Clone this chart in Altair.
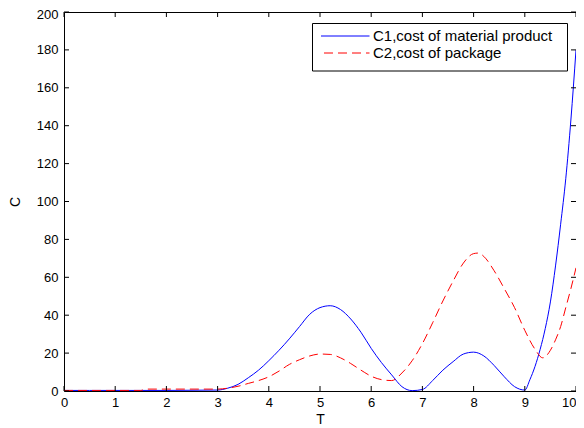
import altair as alt
import pandas as pd

# ---- data ----
T1 = [0.0, 0.5, 1.0, 1.5, 2.0, 2.5, 3.0, 3.2, 3.4, 3.6, 3.8, 4.0, 4.2, 4.4, 4.6, 4.8, 5.0, 5.2,
      5.4, 5.6, 5.8, 6.0, 6.2, 6.4, 6.6, 6.8, 7.0, 7.2, 7.4, 7.6, 7.8, 8.0, 8.2, 8.4, 8.6, 8.8,
      9.0, 9.1, 9.2, 9.3, 9.4, 9.5, 9.6, 9.7, 9.8, 9.9, 10.0]
C1 = [0.3, 0.3, 0.3, 0.3, 0.3, 0.4, 0.5, 1.5, 3.5, 7.0, 11.0, 16.0, 21.5, 27.5, 34.0, 40.5, 44.0, 45.0,
      43.0, 38.0, 31.0, 22.5, 15.0, 8.5, 2.3, 0.2, 0.8, 5.5, 11.0, 15.5, 19.5, 20.5, 18.5, 13.5, 7.5, 2.3,
      0.5, 6.0, 13.0, 22.0, 33.0, 47.0, 66.0, 88.0, 112.0, 143.0, 180.0]

T2 = [0.0, 0.5, 1.0, 1.5, 1.6, 2.0, 2.5, 3.0, 3.2, 3.4, 3.6, 3.8, 4.0, 4.2, 4.4, 4.6, 4.8, 5.0, 5.2,
      5.4, 5.6, 5.8, 6.0, 6.2, 6.4, 6.6, 6.8, 7.0, 7.2, 7.4, 7.6, 7.8, 8.0, 8.1, 8.2, 8.4, 8.6, 8.8,
      9.0, 9.2, 9.35, 9.5, 9.6, 9.7, 9.8, 9.9, 10.0]
C2 = [0.3, 0.3, 0.3, 0.3, 1.0, 1.0, 1.0, 1.0, 1.5, 2.5, 4.0, 5.5, 7.5, 10.5, 14.0, 16.5, 18.5, 19.5, 19.3,
      17.5, 14.5, 11.0, 7.8, 6.0, 5.5, 9.5, 16.0, 25.0, 36.0, 47.5, 58.0, 67.5, 72.5, 72.8, 71.0, 63.5, 54.0, 44.0,
      32.0, 22.0, 17.5, 21.5, 27.0, 34.0, 44.0, 54.0, 65.0]

series_names = ["C1,cost of material product", "C2,cost of package"]
x_ticks = [0, 1, 2, 3, 4, 5, 6, 7, 8, 9, 10]
y_ticks = [0, 20, 40, 60, 80, 100, 120, 140, 160, 180, 200]

W, H = 512, 379
FONT = "Liberation Sans"

df1 = pd.DataFrame({"T": T1, "C": C1})
df2 = pd.DataFrame({"T": T2, "C": C2})
dfx = pd.DataFrame({"t": x_ticks})
dfy = pd.DataFrame({"c": y_ticks})
one = pd.DataFrame({"k": [0]})

xscale = alt.Scale(domain=[0, 10], nice=False, zero=False)
yscale = alt.Scale(domain=[0, 200], nice=False, zero=False)

xaxis = alt.Axis(values=x_ticks, grid=False, domain=False, ticks=False, labelFont=FONT,
                 labelFontSize=13, labelColor="black", labelPadding=5, labelOverlap=False,
                 labelFlush=False,
                 labelAlign={"condition": {"test": "datum.value == 10", "value": "right"},
                             "value": "center"},
                 title="T",
                 titleFont=FONT, titleFontSize=14, titleFontWeight="normal", titleColor="black",
                 titlePadding=3)
yaxis = alt.Axis(values=y_ticks, grid=False, domain=False, ticks=False, labelFont=FONT,
                 labelFontSize=13, labelColor="black", labelPadding=6, labelOverlap=False,
                 labelFlush=False,
                 labelOffset={"condition": {"test": "datum.value == 200", "value": 2},
                              "value": 0},
                 title="C",
                 titleFont=FONT, titleFontSize=14, titleFontWeight="normal", titleColor="black",
                 titlePadding=14)

X = lambda f: alt.X(f, scale=xscale, axis=xaxis)
Y = lambda f: alt.Y(f, scale=yscale, axis=yaxis)

line1 = alt.Chart(df1).mark_line(color="#0000ff", strokeWidth=1, interpolate="monotone").encode(
    x=X("T:Q"), y=Y("C:Q"))
line2 = alt.Chart(df2).mark_line(color="#ff0000", strokeWidth=1, strokeDash=[9, 5],
                                 interpolate="monotone").encode(
    x=X("T:Q"), y=Y("C:Q"))

TL = 5
tick_style = dict(color="black", strokeWidth=1)
xt_bottom = alt.Chart(dfx).mark_rule(**tick_style).encode(
    x=X("t:Q"), y=alt.value(H - TL), y2=alt.value(H))
xt_top = alt.Chart(dfx).mark_rule(**tick_style).encode(
    x=X("t:Q"), y=alt.value(0), y2=alt.value(TL))
yt_left = alt.Chart(dfy).mark_rule(**tick_style).encode(
    y=Y("c:Q"), x=alt.value(0), x2=alt.value(TL))
yt_right = alt.Chart(dfy).mark_rule(**tick_style).encode(
    y=Y("c:Q"), x=alt.value(W - TL), x2=alt.value(W))

# ---- legend box ----
leg_box = alt.Chart(one).mark_rect(fill="white", stroke="black", strokeWidth=1).encode(
    x=alt.value(248.5), x2=alt.value(503.5), y=alt.value(11.5), y2=alt.value(59))
leg_l1 = alt.Chart(one).mark_rule(color="#0000ff", strokeWidth=1).encode(
    x=alt.value(257), x2=alt.value(305.5), y=alt.value(24))
leg_l2 = alt.Chart(one).mark_rule(color="#ff0000", strokeWidth=1, strokeDash=[9, 5]).encode(
    x=alt.value(260), x2=alt.value(305.5), y=alt.value(41))
leg_t1 = alt.Chart(one).mark_text(text=series_names[0], align="left", baseline="middle",
                                  font=FONT, fontSize=15, color="black").encode(
    x=alt.value(309), y=alt.value(24))
leg_t2 = alt.Chart(one).mark_text(text=series_names[1], align="left", baseline="middle",
                                  font=FONT, fontSize=15, color="black").encode(
    x=alt.value(309), y=alt.value(41))

chart = alt.layer(
    line1, line2, xt_bottom, xt_top, yt_left, yt_right,
    leg_box, leg_l1, leg_l2, leg_t1, leg_t2,
).properties(
    width=W, height=H,
    autosize=alt.AutoSizeParams(type="none"),
    padding={"left": 56, "top": 4, "right": 0, "bottom": 37},
    background="white",
).configure_view(stroke="black", strokeWidth=1)

chart.save("out.html", embed_options={"renderer": "svg", "actions": False})
